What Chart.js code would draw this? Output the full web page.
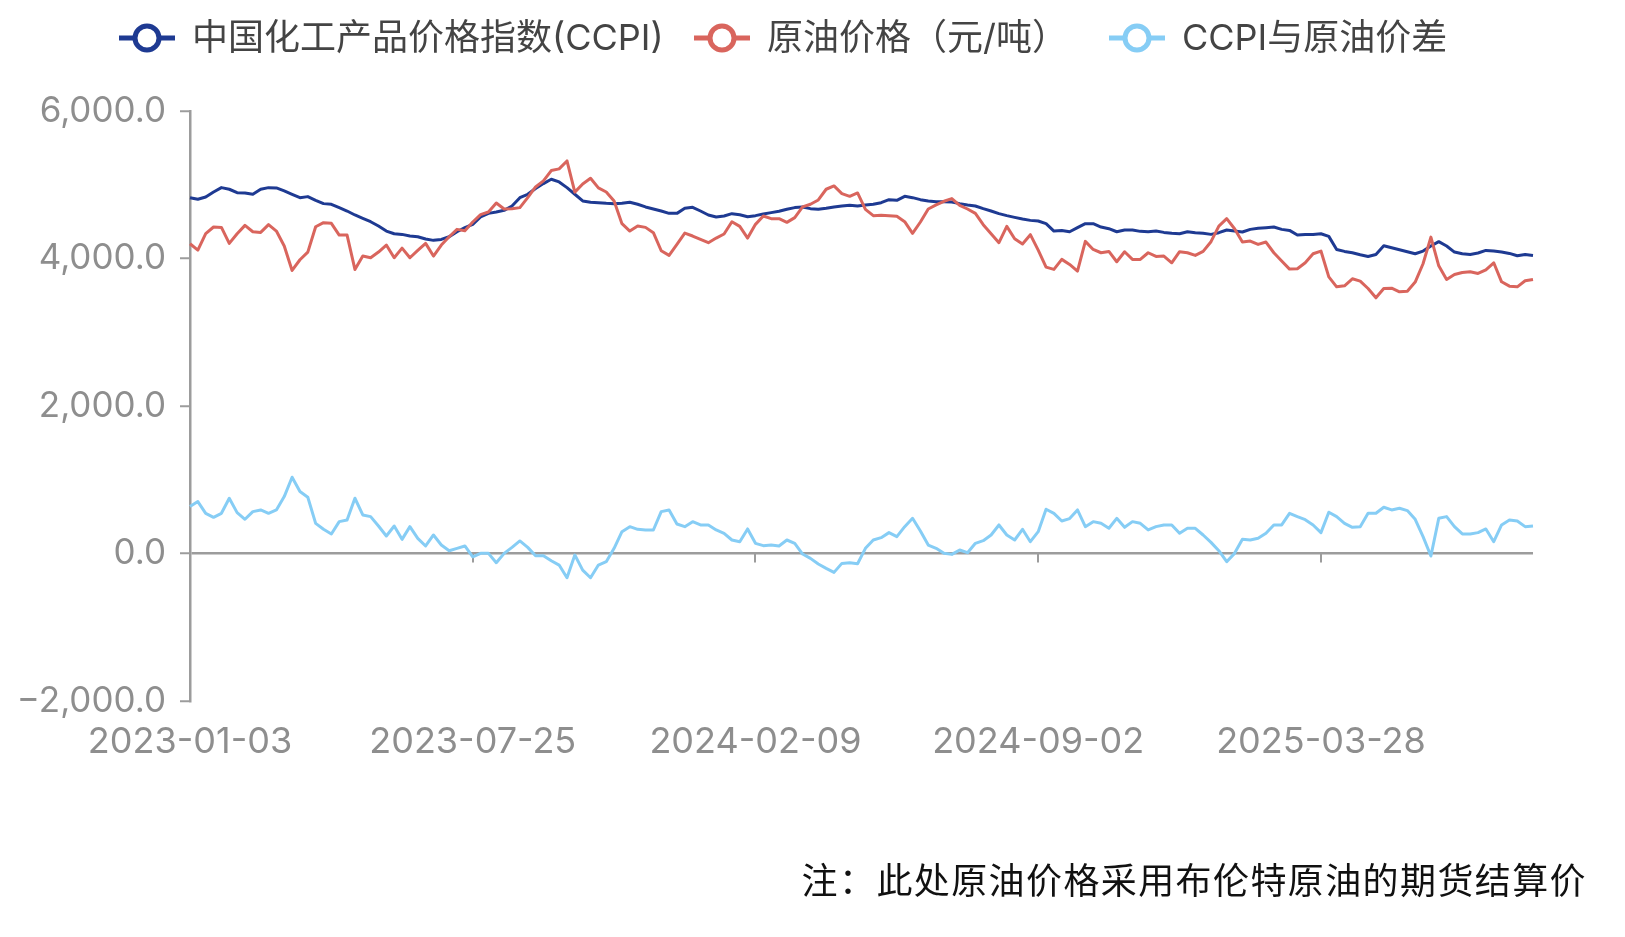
<!DOCTYPE html>
<html><head><meta charset="utf-8">
<script src="https://cdn.jsdelivr.net/npm/chart.js@4.4.1/dist/chart.umd.min.js"></script>
<style>
html,body{margin:0;padding:0;background:#fff;}
#wrap{position:relative;width:1625px;height:937px;}
#note{position:absolute;right:38px;top:852px;font:36px 'Noto Sans CJK SC';letter-spacing:1.4px;color:#111;white-space:nowrap;}
</style></head><body>
<div id="wrap"><canvas id="c" width="1625" height="937"></canvas><div id="note">注：此处原油价格采用布伦特原油的期货结算价</div></div>
<script>
const tickDates = ['2023-01-03', '2023-07-25', '2024-02-09', '2024-09-02', '2025-03-28'];
const pointsPerTick = 36;

const ccpi = [
4825,4803,4834,4902,4961,4939,4893,4889,4871,4939,4961,4957,4916,4871,4825,4839,4789,4744,4735,4690,4644,4590,4545,4499,4440,4372,4336,4327,4305,
4295,4264,4246,4259,4295,4363,4418,4463,4563,4612,4631,4653,4712,4825,4871,4948,5016,5074,5038,4961,4871,4780,4762,4757,4748,4744,4748,4762,4735,
4699,4671,4644,4612,4612,4680,4694,4644,4590,4563,4576,4608,4594,4567,4581,4603,4622,4640,4667,4690,4699,4676,4667,4680,4699,4712,4721,4712,4726,
4735,4757,4798,4789,4843,4825,4798,4780,4771,4771,4766,4744,4726,4712,4676,4644,4608,4581,4558,4535,4517,4508,4472,4372,4381,4363,4418,4472,
4472,4427,4404,4363,4386,4386,4368,4363,4372,4354,4341,4336,4363,4350,4341,4327,4350,4386,4372,4359,4395,4409,4418,4427,4395,4381,4318,4327,4327,
4336,4300,4123,4096,4078,4051,4028,4055,4173,4146,4119,4092,4064,4101,4169,4228,4169,4087,4064,4055,4074,4110,4101,4087,4069,4037,4055,4042
];

const oil = [
4200,4114,4336,4427,4422,4205,4336,4449,4363,4354,4459,4372,4170,3838,3983,4087,4431,4486,4477,4318,4318,3852,4033,4010,4087,4182,4010,4141,4010,
4110,4205,4033,4182,4295,4395,4377,4495,4594,4631,4753,4671,4676,4690,4825,4970,5052,5192,5215,5323,4900,5011,5088,4957,4902,4780,4472,4372,4440,
4422,4350,4105,4042,4191,4345,4305,4259,4214,4277,4332,4499,4436,4277,4463,4576,4540,4540,4490,4554,4699,4735,4794,4939,4984,4880,4843,4889,4667,
4581,4585,4581,4572,4499,4341,4495,4671,4726,4776,4812,4721,4671,4612,4459,4336,4214,4436,4268,4196,4323,4114,3883,3852,3988,3920,3829,4232,
4123,4078,4096,3956,4092,3988,3988,4078,4028,4033,3942,4092,4078,4042,4096,4228,4440,4540,4404,4223,4237,4191,4223,4078,3965,3856,3861,3942,4064,
4101,3750,3616,3630,3725,3693,3593,3467,3593,3598,3548,3557,3680,3929,4290,3901,3716,3784,3811,3820,3797,3847,3942,3684,3625,3616,3698,3716
];

const spread = [
636,704,545,491,545,749,554,464,568,591,545,591,772,1034,840,763,409,328,265,432,455,749,523,500,373,237,373,192,364,206,102,251,115,38,70,
102,-45,2,2,-125,2,83,170,83,-30,-30,-98,-157,-329,-21,-225,-329,-157,-111,70,296,364,328,319,319,568,591,400,364,432,387,387,319,274,
183,160,333,138,106,115,102,183,138,-7,-66,-143,-202,-256,-134,-125,-139,70,183,215,283,228,364,477,305,115,70,2,-12,47,11,138,174,251,387,
251,183,328,160,296,600,545,441,473,591,364,432,409,342,477,355,432,409,319,364,387,387,274,342,342,251,151,38,-111,2,192,183,206,274,
387,387,545,500,459,387,283,560,500,409,355,364,545,545,627,591,613,582,464,228,-34,477,500,364,265,265,283,333,160,387,455,441,364,373
];

const seriesNames = ['中国化工产品价格指数(CCPI)', '原油价格（元/吨）', 'CCPI与原油价差'];
const seriesColors = ['#1e3a92', '#d9655d', '#86cdf5'];
const yMin = -2000, yMax = 6000, yStep = 2000;

const labels = ccpi.map((_, i) => (i % pointsPerTick === 0 ? tickDates[i / pointsPerTick] : ''));

const AXIS = '#9c9c9c';
const LABEL = '#8e8e8e';
const NUMFONT = 'Inter, "Noto Sans", sans-serif';

const fmt = v => {
  const s = Math.abs(v).toLocaleString('en-US', {minimumFractionDigits: 1, maximumFractionDigits: 1});
  return (v < 0 ? '\u2212' : '') + s;
};

const decorPlugin = {
  id: 'decor',
  beforeDatasetsDraw(chart) {
    const {ctx, scales: {x, y}} = chart;
    const y0 = y.getPixelForValue(0);
    ctx.save();
    ctx.strokeStyle = AXIS;
    ctx.lineWidth = 2;
    labels.forEach((lab, i) => {
      if (!lab) return;
      const px = Math.round(x.getPixelForValue(i));
      ctx.beginPath();
      ctx.moveTo(px, y0);
      ctx.lineTo(px, y0 + 9);
      ctx.stroke();
    });
    ctx.restore();
  },
  afterDraw(chart) {
    const ctx = chart.ctx;
    const centers = [147, 722, 1137];
    const cy = 38;
    ctx.save();
    seriesNames.forEach((name, i) => {
      const cx = centers[i];
      ctx.strokeStyle = seriesColors[i];
      ctx.lineWidth = 5;
      ctx.beginPath();
      ctx.moveTo(cx - 28, cy);
      ctx.lineTo(cx + 28, cy);
      ctx.stroke();
      ctx.beginPath();
      ctx.arc(cx, cy, 12, 0, Math.PI * 2);
      ctx.fillStyle = '#fff';
      ctx.fill();
      ctx.stroke();
      ctx.fillStyle = '#444';
      ctx.font = '36px Inter, "Noto Sans CJK SC", sans-serif';
      ctx.textBaseline = 'middle';
      ctx.textAlign = 'left';
      ctx.fillText(name, cx + 45, cy + 1);
    });
    ctx.restore();
  }
};

new Chart(document.getElementById('c'), {
  type: 'line',
  data: {
    labels: labels,
    datasets: [
      {label: seriesNames[0], data: ccpi, borderColor: seriesColors[0], order: 3},
      {label: seriesNames[1], data: oil, borderColor: seriesColors[1], order: 2},
      {label: seriesNames[2], data: spread, borderColor: seriesColors[2], order: 1}
    ].map(d => Object.assign(d, {borderWidth: 3, pointRadius: 0, tension: 0, fill: false, borderJoinStyle: 'round'}))
  },
  options: {
    responsive: false,
    animation: false,
    devicePixelRatio: 1,
    layout: {padding: {top: 111, left: 0, right: 92, bottom: 0}},
    plugins: {legend: {display: false}, tooltip: {enabled: false}},
    scales: {
      x: {
        type: 'category',
        offset: false,
        grid: {display: false, drawTicks: false},
        border: {display: false},
        ticks: {
          autoSkip: false, maxRotation: 0, minRotation: 0, padding: 20,
          color: LABEL, font: {family: NUMFONT, size: 36},
          callback: (v, i) => labels[i] ? labels[i] : null
        },
        afterFit: s => { s.height = 236; }
      },
      y: {
        min: yMin, max: yMax,
        ticks: {stepSize: yStep, padding: 14, color: LABEL, font: {family: NUMFONT, size: 35}, callback: v => fmt(v)},
        grid: {
          drawOnChartArea: true, drawTicks: true, tickLength: 10,
          color: c => (c.tick && c.tick.value === 0 ? AXIS : 'rgba(0,0,0,0)'),
          lineWidth: 2.5, tickColor: AXIS, tickWidth: 2
        },
        border: {display: true, color: AXIS, width: 2.5},
        afterFit: s => { s.width = 190; }
      }
    }
  },
  plugins: [decorPlugin]
});
</script>
</body></html>
